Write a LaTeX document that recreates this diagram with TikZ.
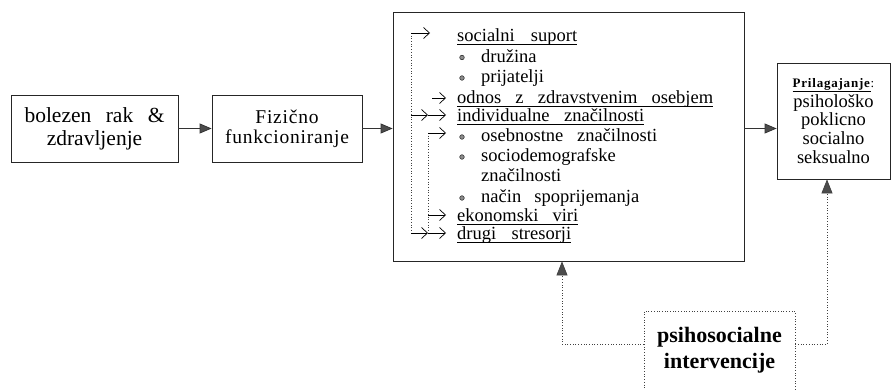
\documentclass[tikz,border=0pt]{standalone}
\usepackage{fontspec}
\setmainfont{Liberation Serif}
\usetikzlibrary{arrows.meta}
\newcommand{\ulbox}[2]{\hbox to #1{#2}\llap{\rule[-2.8pt]{#1}{0.6pt}}}
\begin{document}
\begin{tikzpicture}[x=1pt,y=-1pt,
  box/.style={draw=black!85, line width=0.8pt, inner sep=0pt},
  filarr/.style={draw=black!80, line width=0.8pt, -{Triangle[length=12pt,width=10pt,fill=black!70]}},
  dotln/.style={draw=black!75, line width=0.7pt, dotted},
  barb/.style={line width=0.6pt, -{Straight Barb[length=6pt,width=11pt,line width=0.7pt]}},
  uptip/.style={-{Triangle[length=14pt,width=11pt,fill=black!70]}},
  txt/.style={anchor=base west, inner sep=0pt, font=\fontsize{18.5}{20}\selectfont},
  bul/.style={draw=black!85, fill=black!45, line width=0.5pt}
]
\useasboundingbox (0,0) rectangle (891,390);

% main boxes
\node[box, minimum width=167pt, minimum height=67pt, align=center,
      font=\fontsize{21.5}{23}\selectfont] (b1) at (94.5,128.5)
      {\hbox to 140pt{bolezen\hfil rak\hfil \&}\\zdravljenje};
\node[box, minimum width=150pt, minimum height=67pt, align=center,
      font=\fontsize{19.5}{20}\selectfont\addfontfeatures{LetterSpace=4}] (b2) at (287,128.5)
      {Fizično\\funkcioniranje};
\node[box, minimum width=351pt, minimum height=249pt] (big) at (568.5,136.5) {};
\node[box, minimum width=113pt, minimum height=116pt, align=center,
      font=\fontsize{18.5}{18.8}\selectfont] (pr) at (833.5,121)
      {{\fontsize{13}{13}\selectfont\addfontfeatures{LetterSpace=6}\underline{\textbf{Prilagajanje}}:}\\[1pt]psihološko\\poklicno\\socialno\\seksualno};

% intervention box (open at the bottom edge of the picture)
\node[draw=black!75, dotted, line width=0.7pt, minimum width=151pt, minimum height=100pt,
      anchor=north, inner sep=0pt] (psibox) at (719.5,311) {};
\node[align=center, inner sep=0pt, font=\fontsize{22}{26}\selectfont\bfseries] (psi) at (719.5,350)
      {psihosocialne\\intervencije};

% main flow arrows
\draw[filarr] (b1.east) -- (b2.west);
\draw[filarr] (b2.east) -- (b2.east -| big.west);
\draw[filarr] (big.east |- b2.east) -- (pr.west |- b2.east);

% intervention connectors
\coordinate (lvl) at (719.5,344);
\coordinate (lx) at (562,0);
\coordinate (rx) at (827,0);
\draw[dotln, uptip] (psibox.west |- lvl) -| (lx |- big.south);
\draw[dotln, uptip] (psibox.east |- lvl) -| (rx |- pr.south);

% list inside the big box
\node[txt] (t1) at (457,42) {\ulbox{120pt}{socialni\hfil suport}};
\node[txt] (t2) at (481,62.5) {družina};
\node[txt] (t3) at (481,83) {prijatelji};
\node[txt] (t4) at (457,104) {\ulbox{256pt}{odnos\hfil z\hfil zdravstvenim\hfil osebjem}};
\node[txt] (t5) at (457,122) {\ulbox{187pt}{individualne\hfil značilnosti}};
\node[txt] (t6) at (481,142) {\hbox to 176pt{osebnostne\hfil značilnosti}};
\node[txt] (t7) at (481,162) {sociodemografske};
\node[txt] (t8) at (481,181.5) {značilnosti};
\node[txt] (t9) at (481,203) {\hbox to 158pt{način\hfil spoprijemanja}};
\node[txt] (t10) at (457,222) {\ulbox{121pt}{ekonomski\hfil viri}};
\node[txt] (t11) at (457,240) {\ulbox{114pt}{drugi\hfil stresorji}};

% bullets
\foreach \yy in {57.5,78,137,157,198}
  \filldraw[bul] (462,\yy) circle (2.3pt);

% feedback arrows inside the big box
\coordinate (oT) at (411,33);
\coordinate (oB) at (411,233);
\coordinate (iT) at (428,133);
\coordinate (iB) at (428,233);
\draw[dotln] (oT) -- (oB);
\draw[dotln] (iT) -- (iB);
\draw[barb] (oT) -- (430,33);
\draw[barb] (432,98) -- (446,98);
\draw[barb] (411,115) -- (428,115);
\draw[barb] (428,115) -- (446,115);
\draw[barb] (iT) -- (446,133);
\draw[barb] (428,215) -- (446,215);
\draw[barb] (oB) -- (iB);
\draw[barb] (iB) -- (446,233);
\end{tikzpicture}
\end{document}
